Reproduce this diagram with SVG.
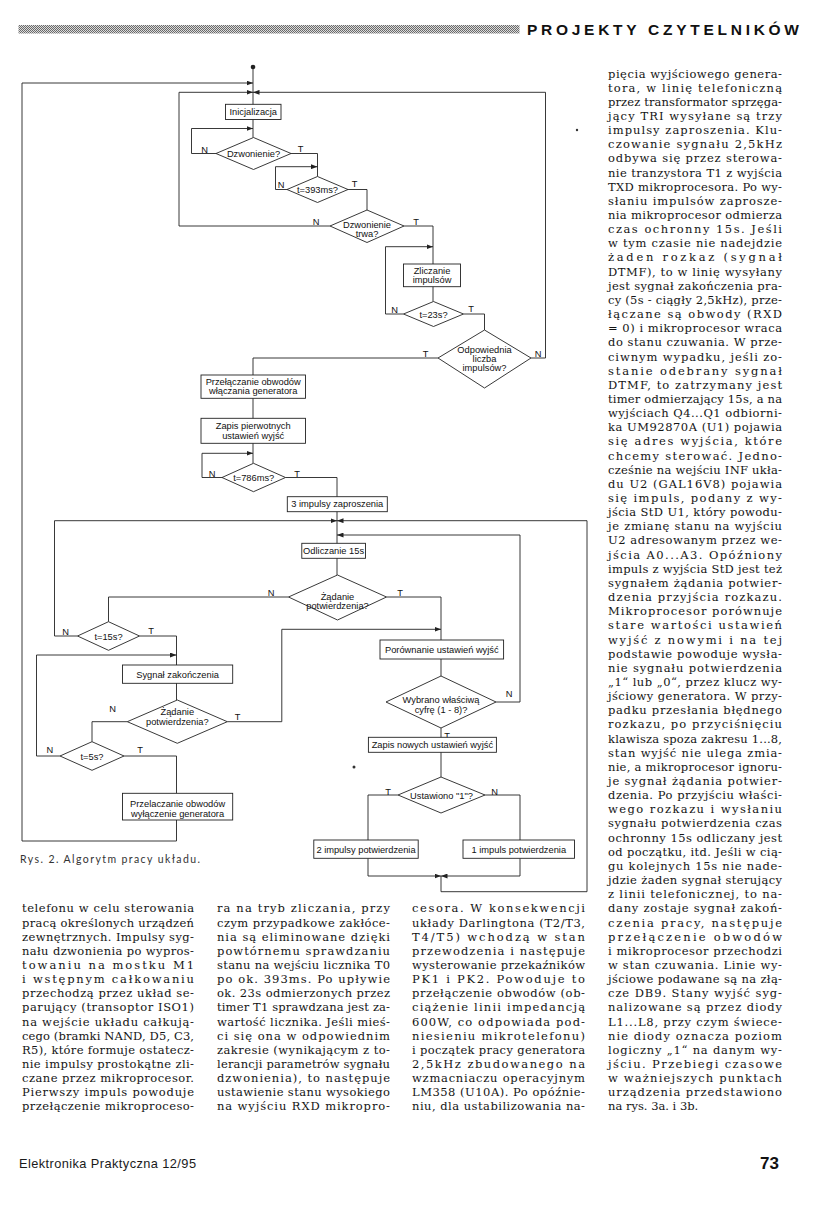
<svg xmlns="http://www.w3.org/2000/svg" width="827" height="1210" viewBox="0 0 827 1210">
<defs>
<pattern id="ht" width="2" height="2" patternUnits="userSpaceOnUse"><rect width="2" height="2" fill="#dcdcdc"/><rect width="1" height="1" fill="#6a6a6a"/><rect x="1" y="1" width="1" height="1" fill="#6a6a6a"/></pattern>
<marker id="ah" viewBox="0 0 8 6" refX="8" refY="3" markerWidth="6.5" markerHeight="5" orient="auto" markerUnits="userSpaceOnUse"><path d="M0,0 L8,3 L0,6 z" fill="#222"/></marker>
<style>
.bx{fill:#fff;stroke:#222;stroke-width:0.9}
.cn{fill:none;stroke:#222;stroke-width:0.9}
.ar{marker-end:url(#ah)}
.l{font-family:"Liberation Sans",Arial,sans-serif;font-size:9.3px;fill:#111;text-anchor:middle}
.tn{font-family:"Liberation Sans",Arial,sans-serif;font-size:9.3px;fill:#111;text-anchor:middle}
.b{font-family:"DejaVu Serif","Liberation Serif",serif;font-size:11.5px;fill:#141414}
</style>
</defs>
<rect width="827" height="1210" fill="#fff"/>

<g id="header">
<rect x="18.5" y="25" width="501" height="8.5" fill="url(#ht)"/>
<text x="527" y="34.7" font-family="Liberation Sans,Arial,sans-serif" font-weight="bold" font-size="15.5" fill="#111" textLength="272" lengthAdjust="spacing">PROJEKTY CZYTELNIKÓW</text>
</g>

<g id="connectors">
<path class="cn" d="M253,67 V137.5"/>
<path class="cn ar" d="M176.5,820 V841 H22 V83 H253"/>
<path class="cn ar" d="M330,226 H179 V92.3 H253"/>
<path class="cn ar" d="M531,358 H545.5 V92.3 H253"/>
<path class="cn ar" d="M216,153.5 H191.5 V128.5 H253"/>
<path class="cn" d="M291,153.5 H317.5 V176.5"/>
<path class="cn ar" d="M287,189.5 H275.5 V166.7 H317.5"/>
<path class="cn" d="M348,189.5 H367 V210"/>
<path class="cn" d="M404,226 H433 V301.5"/>
<path class="cn ar" d="M403.5,314 H385.5 V246.7 H433"/>
<path class="cn" d="M463.5,314 H484.5 V330"/>
<path class="cn" d="M438,358 H253 V463.3"/>
<path class="cn ar" d="M222,477.5 H202 V453.3 H253"/>
<path class="cn" d="M285.5,477.5 H337 V575"/>
<path class="cn ar" d="M77.5,636 H54.5 V520.7 H337"/>
<path class="cn ar" d="M441,876 V891.7 H587 V520.7 H337"/>
<path class="cn ar" d="M496,702 H520 V535 H337"/>
<path class="cn" d="M288.5,597 H108.5 V621.7"/>
<path class="cn" d="M386.5,597 H441 V676"/>
<path class="cn" d="M139.5,636 H176.5 V700"/>
<path class="cn ar" d="M60,756 H36.5 V655 H176.5"/>
<path class="cn ar" d="M227.3,721.7 H281.8 V629.3 H441"/>
<path class="cn" d="M127.3,721.7 H92 V741.7"/>
<path class="cn" d="M124,756 H176.5 V793.3"/>
<path class="cn" d="M441,728 V777"/>
<path class="cn" d="M398,795 H368 V840"/>
<path class="cn" d="M485,795 H520 V840"/>
<path class="cn ar" d="M368,858.3 V876 H441"/>
<path class="cn ar" d="M520,858.3 V876 H441"/>
<circle cx="253" cy="67" r="2.3" fill="#222"/>
</g>

<g id="n-init"><rect class="bx" x="225.5" y="104.3" width="55.5" height="15.2"/><text class="l" x="253.2" y="115.2">Inicjalizacja</text></g>

<g id="n-dzw"><polygon class="bx" points="216,153.5 253.5,137.5 291,153.5 253.5,169.5"/><text class="l" x="253.5" y="157">Dzwonienie?</text>
<text class="tn" x="204.7" y="152.5">N</text><text class="tn" x="300.7" y="151.5">T</text></g>

<g id="n-t393"><polygon class="bx" points="287,189.5 317.5,176.5 348,189.5 317.5,202.5"/><text class="l" x="317.5" y="193">t=393ms?</text>
<text class="tn" x="281" y="188">N</text><text class="tn" x="354.5" y="186.5">T</text></g>

<g id="n-dzwtrwa"><polygon class="bx" points="330,226 367,210 404,226 367,242.5"/><text class="l" x="367" y="227.5">Dzwonienie</text><text class="l" x="367" y="236.8">trwa?</text>
<text class="tn" x="316" y="225">N</text><text class="tn" x="416" y="224.5">T</text></g>

<g id="n-zlicz"><rect class="bx" x="403.5" y="264" width="57" height="22.7"/><text class="l" x="432" y="273.5">Zliczanie</text><text class="l" x="432" y="283.3">impulsów</text></g>

<g id="n-t23"><polygon class="bx" points="403.5,314 433.5,301.5 463.5,314 433.5,326.5"/><text class="l" x="433.5" y="317.5">t=23s?</text>
<text class="tn" x="394.5" y="312.5">N</text><text class="tn" x="471" y="311.5">T</text></g>

<g id="n-odp"><polygon class="bx" points="438,358 484.5,330 531,358 484.5,388"/><text class="l" x="484.5" y="353">Odpowiednia</text><text class="l" x="484.5" y="362">liczba</text><text class="l" x="484.5" y="371">impulsów?</text>
<text class="tn" x="538" y="356.5">N</text><text class="tn" x="425.5" y="356.5">T</text></g>

<g id="n-przel1"><rect class="bx" x="201" y="375" width="104.5" height="23.3"/><text class="l" x="253.2" y="384.5">Przełączanie obwodów</text><text class="l" x="253.2" y="394.3">włączania generatora</text></g>

<g id="n-zapis1"><rect class="bx" x="201" y="418.3" width="104.5" height="25"/><text class="l" x="253.2" y="428.8">Zapis pierwotnych</text><text class="l" x="253.2" y="438.8">ustawień wyjść</text></g>

<g id="n-t786"><polygon class="bx" points="222,477.5 253.5,463.3 285.5,477.5 253.5,491.7"/><text class="l" x="253.7" y="481">t=786ms?</text>
<text class="tn" x="212" y="476.5">N</text><text class="tn" x="297" y="476.5">T</text></g>

<g id="n-3imp"><rect class="bx" x="287.3" y="496.7" width="100" height="15"/><text class="l" x="337.3" y="507.2">3 impulsy zaproszenia</text></g>

<g id="n-odl"><rect class="bx" x="301.8" y="543.3" width="63.7" height="15"/><text class="l" x="333.6" y="554">Odliczanie 15s</text></g>

<g id="n-zad1"><polygon class="bx" points="288.5,597 337.5,575 386.5,597 337.5,620"/><text class="l" x="337.5" y="599.5">Żądanie</text><text class="l" x="337.5" y="608.5">potwierdzenia?</text>
<text class="tn" x="271" y="596">N</text><text class="tn" x="400" y="596">T</text></g>

<g id="n-t15"><polygon class="bx" points="77.5,636 108.5,621.7 139.5,636 108.5,650.3"/><text class="l" x="108.5" y="639.5">t=15s?</text>
<text class="tn" x="65.5" y="635">N</text><text class="tn" x="151" y="633.5">T</text></g>

<g id="n-por"><rect class="bx" x="380" y="640" width="123.6" height="19"/><text class="l" x="441.8" y="653.3">Porównanie ustawień wyjść</text></g>

<g id="n-syg"><rect class="bx" x="122.5" y="665" width="110.2" height="18.3"/><text class="l" x="177.6" y="677.5">Sygnał zakończenia</text></g>

<g id="n-zad2"><polygon class="bx" points="127.3,721.7 177.3,700 227.3,721.7 177.3,743.3"/><text class="l" x="177.3" y="715">Żądanie</text><text class="l" x="177.3" y="724.5">potwierdzenia?</text>
<text class="tn" x="112.7" y="711.5">N</text><text class="tn" x="237.5" y="719.5">T</text></g>

<g id="n-t5"><polygon class="bx" points="60,756 92,741.7 124,756 92,770.3"/><text class="l" x="92" y="759.5">t=5s?</text>
<text class="tn" x="49.8" y="753">N</text><text class="tn" x="140" y="753">T</text></g>

<g id="n-przel2"><rect class="bx" x="122.5" y="793.3" width="110.2" height="26.7"/><text class="l" x="177.6" y="806.5">Przelaczanie obwodów</text><text class="l" x="177.6" y="816.5">wyłączenie generatora</text></g>

<g id="n-wyb"><polygon class="bx" points="386,702 441,676 496,702 441,728"/><text class="l" x="441" y="703">Wybrano właściwą</text><text class="l" x="441" y="712.5">cyfrę (1 - 8)?</text>
<text class="tn" x="509" y="696.5">N</text><text class="tn" x="447" y="738.5">T</text></g>

<g id="n-zapis2"><rect class="bx" x="368.4" y="737.3" width="128" height="15"/><text class="l" x="432.4" y="748.3">Zapis nowych ustawień wyjść</text></g>

<g id="n-ust"><polygon class="bx" points="398,795 441,777 485,795 441,813"/><text class="l" x="441.5" y="798.5">Ustawiono "1"?</text>
<text class="tn" x="388" y="795">T</text><text class="tn" x="494.5" y="795">N</text></g>

<g id="n-2imp"><rect class="bx" x="313.8" y="840" width="104.4" height="18.3"/><text class="l" x="366" y="852.5">2 impulsy potwierdzenia</text></g>

<g id="n-1imp"><rect class="bx" x="463" y="840" width="111.5" height="18.3"/><text class="l" x="518.8" y="852.5">1 impuls potwierdzenia</text></g>

<g id="specks" fill="#333"><circle cx="577" cy="130" r="1.2"/><circle cx="354" cy="767" r="1.5"/></g>

<g id="caption"><text x="20" y="862.5" font-family="Lato,'Liberation Sans',sans-serif" font-size="10.5" fill="#333" textLength="180" lengthAdjust="spacing">Rys. 2. Algorytm pracy układu.</text></g>

<g id="colD" class="b">
<text x="608" y="77.5" textLength="174" lengthAdjust="spacing">pięcia wyjściowego genera-</text>
<text x="608" y="91.65" textLength="174" lengthAdjust="spacing">tora, w linię telefoniczną</text>
<text x="608" y="105.8" textLength="174" lengthAdjust="spacing">przez transformator sprzęga-</text>
<text x="608" y="119.95" textLength="174" lengthAdjust="spacing">jący TRI wysyłane są trzy</text>
<text x="608" y="134.1" textLength="174" lengthAdjust="spacing">impulsy zaproszenia. Klu-</text>
<text x="608" y="148.25" textLength="174" lengthAdjust="spacing">czowanie sygnału 2,5kHz</text>
<text x="608" y="162.4" textLength="174" lengthAdjust="spacing">odbywa się przez sterowa-</text>
<text x="608" y="176.55" textLength="174" lengthAdjust="spacing">nie tranzystora T1 z wyjścia</text>
<text x="608" y="190.7" textLength="174" lengthAdjust="spacing">TXD mikroprocesora. Po wy-</text>
<text x="608" y="204.85" textLength="174" lengthAdjust="spacing">słaniu impulsów zaprosze-</text>
<text x="608" y="219" textLength="174" lengthAdjust="spacing">nia mikroprocesor odmierza</text>
<text x="608" y="233.15" textLength="174" lengthAdjust="spacing">czas ochronny 15s. Jeśli</text>
<text x="608" y="247.3" textLength="174" lengthAdjust="spacing">w tym czasie nie nadejdzie</text>
<text x="608" y="261.45" textLength="174" lengthAdjust="spacing">żaden rozkaz (sygnał</text>
<text x="608" y="275.6" textLength="174" lengthAdjust="spacing">DTMF), to w linię wysyłany</text>
<text x="608" y="289.75" textLength="174" lengthAdjust="spacing">jest sygnał zakończenia pra-</text>
<text x="608" y="303.9" textLength="174" lengthAdjust="spacing">cy (5s - ciągły 2,5kHz), prze-</text>
<text x="608" y="318.05" textLength="174" lengthAdjust="spacing">łączane są obwody (RXD</text>
<text x="608" y="332.2" textLength="174" lengthAdjust="spacing">= 0) i mikroprocesor wraca</text>
<text x="608" y="346.35" textLength="174" lengthAdjust="spacing">do stanu czuwania. W prze-</text>
<text x="608" y="360.5" textLength="174" lengthAdjust="spacing">ciwnym wypadku, jeśli zo-</text>
<text x="608" y="374.65" textLength="174" lengthAdjust="spacing">stanie odebrany sygnał</text>
<text x="608" y="388.8" textLength="174" lengthAdjust="spacing">DTMF, to zatrzymany jest</text>
<text x="608" y="402.95" textLength="174" lengthAdjust="spacing">timer odmierzający 15s, a na</text>
<text x="608" y="417.1" textLength="174" lengthAdjust="spacing">wyjściach Q4...Q1 odbiorni-</text>
<text x="608" y="431.25" textLength="174" lengthAdjust="spacing">ka UM92870A (U1) pojawia</text>
<text x="608" y="445.4" textLength="174" lengthAdjust="spacing">się adres wyjścia, które</text>
<text x="608" y="459.55" textLength="174" lengthAdjust="spacing">chcemy sterować. Jedno-</text>
<text x="608" y="473.7" textLength="174" lengthAdjust="spacing">cześnie na wejściu INF ukła-</text>
<text x="608" y="487.85" textLength="174" lengthAdjust="spacing">du U2 (GAL16V8) pojawia</text>
<text x="608" y="502" textLength="174" lengthAdjust="spacing">się impuls, podany z wy-</text>
<text x="608" y="516.15" textLength="174" lengthAdjust="spacing">jścia StD U1, który powodu-</text>
<text x="608" y="530.3" textLength="174" lengthAdjust="spacing">je zmianę stanu na wyjściu</text>
<text x="608" y="544.45" textLength="174" lengthAdjust="spacing">U2 adresowanym przez we-</text>
<text x="608" y="558.6" textLength="174" lengthAdjust="spacing">jścia A0...A3. Opóźniony</text>
<text x="608" y="572.75" textLength="174" lengthAdjust="spacing">impuls z wyjścia StD jest też</text>
<text x="608" y="586.9" textLength="174" lengthAdjust="spacing">sygnałem żądania potwier-</text>
<text x="608" y="601.05" textLength="174" lengthAdjust="spacing">dzenia przyjścia rozkazu.</text>
<text x="608" y="615.2" textLength="174" lengthAdjust="spacing">Mikroprocesor porównuje</text>
<text x="608" y="629.35" textLength="174" lengthAdjust="spacing">stare wartości ustawień</text>
<text x="608" y="643.5" textLength="174" lengthAdjust="spacing">wyjść z nowymi i na tej</text>
<text x="608" y="657.65" textLength="174" lengthAdjust="spacing">podstawie powoduje wysła-</text>
<text x="608" y="671.8" textLength="174" lengthAdjust="spacing">nie sygnału potwierdzenia</text>
<text x="608" y="685.95" textLength="174" lengthAdjust="spacing">„1“ lub „0“, przez klucz wy-</text>
<text x="608" y="700.1" textLength="174" lengthAdjust="spacing">jściowy generatora. W przy-</text>
<text x="608" y="714.25" textLength="174" lengthAdjust="spacing">padku przesłania błędnego</text>
<text x="608" y="728.4" textLength="174" lengthAdjust="spacing">rozkazu, po przyciśnięciu</text>
<text x="608" y="742.55" textLength="174" lengthAdjust="spacing">klawisza spoza zakresu 1...8,</text>
<text x="608" y="756.7" textLength="174" lengthAdjust="spacing">stan wyjść nie ulega zmia-</text>
<text x="608" y="770.85" textLength="174" lengthAdjust="spacing">nie, a mikroprocesor ignoru-</text>
<text x="608" y="785" textLength="174" lengthAdjust="spacing">je sygnał żądania potwier-</text>
<text x="608" y="799.15" textLength="174" lengthAdjust="spacing">dzenia. Po przyjściu właści-</text>
<text x="608" y="813.3" textLength="174" lengthAdjust="spacing">wego rozkazu i wysłaniu</text>
<text x="608" y="827.45" textLength="174" lengthAdjust="spacing">sygnału potwierdzenia czas</text>
<text x="608" y="841.6" textLength="174" lengthAdjust="spacing">ochronny 15s odliczany jest</text>
<text x="608" y="855.75" textLength="174" lengthAdjust="spacing">od początku, itd. Jeśli w cią-</text>
<text x="608" y="869.9" textLength="174" lengthAdjust="spacing">gu kolejnych 15s nie nade-</text>
<text x="608" y="884.05" textLength="174" lengthAdjust="spacing">jdzie żaden sygnał sterujący</text>
<text x="608" y="898.2" textLength="174" lengthAdjust="spacing">z linii telefonicznej, to na-</text>
<text x="608" y="912.35" textLength="174" lengthAdjust="spacing">dany zostaje sygnał zakoń-</text>
<text x="608" y="926.5" textLength="174" lengthAdjust="spacing">czenia pracy, następuje</text>
<text x="608" y="940.65" textLength="174" lengthAdjust="spacing">przełączenie obwodów</text>
<text x="608" y="954.8" textLength="174" lengthAdjust="spacing">i mikroprocesor przechodzi</text>
<text x="608" y="968.95" textLength="174" lengthAdjust="spacing">w stan czuwania. Linie wy-</text>
<text x="608" y="983.1" textLength="174" lengthAdjust="spacing">jściowe podawane są na złą-</text>
<text x="608" y="997.25" textLength="174" lengthAdjust="spacing">cze DB9. Stany wyjść syg-</text>
<text x="608" y="1011.4" textLength="174" lengthAdjust="spacing">nalizowane są przez diody</text>
<text x="608" y="1025.55" textLength="174" lengthAdjust="spacing">L1...L8, przy czym świece-</text>
<text x="608" y="1039.7" textLength="174" lengthAdjust="spacing">nie diody oznacza poziom</text>
<text x="608" y="1053.85" textLength="174" lengthAdjust="spacing">logiczny „1“ na danym wy-</text>
<text x="608" y="1068" textLength="174" lengthAdjust="spacing">jściu. Przebiegi czasowe</text>
<text x="608" y="1082.15" textLength="174" lengthAdjust="spacing">w ważniejszych punktach</text>
<text x="608" y="1096.3" textLength="174" lengthAdjust="spacing">urządzenia przedstawiono</text>
<text x="608" y="1110.45">na rys. 3a. i 3b.</text>
</g>

<g id="colA" class="b">
<text x="22" y="912.35" textLength="172" lengthAdjust="spacing">telefonu w celu sterowania</text>
<text x="22" y="926.5" textLength="172" lengthAdjust="spacing">pracą określonych urządzeń</text>
<text x="22" y="940.65" textLength="172" lengthAdjust="spacing">zewnętrznych. Impulsy syg-</text>
<text x="22" y="954.8" textLength="172" lengthAdjust="spacing">nału dzwonienia po wypros-</text>
<text x="22" y="968.95" textLength="172" lengthAdjust="spacing">towaniu na mostku M1</text>
<text x="22" y="983.1" textLength="172" lengthAdjust="spacing">i wstępnym całkowaniu</text>
<text x="22" y="997.25" textLength="172" lengthAdjust="spacing">przechodzą przez układ se-</text>
<text x="22" y="1011.4" textLength="172" lengthAdjust="spacing">parujący (transoptor ISO1)</text>
<text x="22" y="1025.55" textLength="172" lengthAdjust="spacing">na wejście układu całkują-</text>
<text x="22" y="1039.7" textLength="172" lengthAdjust="spacing">cego (bramki NAND, D5, C3,</text>
<text x="22" y="1053.85" textLength="172" lengthAdjust="spacing">R5), które formuje ostatecz-</text>
<text x="22" y="1068" textLength="172" lengthAdjust="spacing">nie impulsy prostokątne zli-</text>
<text x="22" y="1082.15" textLength="172" lengthAdjust="spacing">czane przez mikroprocesor.</text>
<text x="22" y="1096.3" textLength="172" lengthAdjust="spacing">Pierwszy impuls powoduje</text>
<text x="22" y="1110.45" textLength="172" lengthAdjust="spacing">przełączenie mikroproceso-</text>
</g>

<g id="colB" class="b">
<text x="217" y="912.35" textLength="173" lengthAdjust="spacing">ra na tryb zliczania, przy</text>
<text x="217" y="926.5" textLength="173" lengthAdjust="spacing">czym przypadkowe zakłóce-</text>
<text x="217" y="940.65" textLength="173" lengthAdjust="spacing">nia są eliminowane dzięki</text>
<text x="217" y="954.8" textLength="173" lengthAdjust="spacing">powtórnemu sprawdzaniu</text>
<text x="217" y="968.95" textLength="173" lengthAdjust="spacing">stanu na wejściu licznika T0</text>
<text x="217" y="983.1" textLength="173" lengthAdjust="spacing">po ok. 393ms. Po upływie</text>
<text x="217" y="997.25" textLength="173" lengthAdjust="spacing">ok. 23s odmierzonych przez</text>
<text x="217" y="1011.4" textLength="173" lengthAdjust="spacing">timer T1 sprawdzana jest za-</text>
<text x="217" y="1025.55" textLength="173" lengthAdjust="spacing">wartość licznika. Jeśli mieś-</text>
<text x="217" y="1039.7" textLength="173" lengthAdjust="spacing">ci się ona w odpowiednim</text>
<text x="217" y="1053.85" textLength="173" lengthAdjust="spacing">zakresie (wynikającym z to-</text>
<text x="217" y="1068" textLength="173" lengthAdjust="spacing">lerancji parametrów sygnału</text>
<text x="217" y="1082.15" textLength="173" lengthAdjust="spacing">dzwonienia), to następuje</text>
<text x="217" y="1096.3" textLength="173" lengthAdjust="spacing">ustawienie stanu wysokiego</text>
<text x="217" y="1110.45" textLength="173" lengthAdjust="spacing">na wyjściu RXD mikropro-</text>
</g>

<g id="colC" class="b">
<text x="412" y="912.35" textLength="173" lengthAdjust="spacing">cesora. W konsekwencji</text>
<text x="412" y="926.5" textLength="173" lengthAdjust="spacing">układy Darlingtona (T2/T3,</text>
<text x="412" y="940.65" textLength="173" lengthAdjust="spacing">T4/T5) wchodzą w stan</text>
<text x="412" y="954.8" textLength="173" lengthAdjust="spacing">przewodzenia i następuje</text>
<text x="412" y="968.95" textLength="173" lengthAdjust="spacing">wysterowanie przekaźników</text>
<text x="412" y="983.1" textLength="173" lengthAdjust="spacing">PK1 i PK2. Powoduje to</text>
<text x="412" y="997.25" textLength="173" lengthAdjust="spacing">przełączenie obwodów (ob-</text>
<text x="412" y="1011.4" textLength="173" lengthAdjust="spacing">ciążenie linii impedancją</text>
<text x="412" y="1025.55" textLength="173" lengthAdjust="spacing">600W, co odpowiada pod-</text>
<text x="412" y="1039.7" textLength="173" lengthAdjust="spacing">niesieniu mikrotelefonu)</text>
<text x="412" y="1053.85" textLength="173" lengthAdjust="spacing">i początek pracy generatora</text>
<text x="412" y="1068" textLength="173" lengthAdjust="spacing">2,5kHz zbudowanego na</text>
<text x="412" y="1082.15" textLength="173" lengthAdjust="spacing">wzmacniaczu operacyjnym</text>
<text x="412" y="1096.3" textLength="173" lengthAdjust="spacing">LM358 (U10A). Po opóźnie-</text>
<text x="412" y="1110.45" textLength="173" lengthAdjust="spacing">niu, dla ustabilizowania na-</text>
</g>

<g id="footer">
<text x="19" y="1168" font-family="Liberation Sans,Arial,sans-serif" font-size="12.8" fill="#1a1a1a" textLength="177" lengthAdjust="spacing">Elektronika Praktyczna 12/95</text>
<text x="760" y="1169" font-family="Liberation Sans,Arial,sans-serif" font-weight="bold" font-size="17" fill="#111">73</text>
</g>
</svg>
